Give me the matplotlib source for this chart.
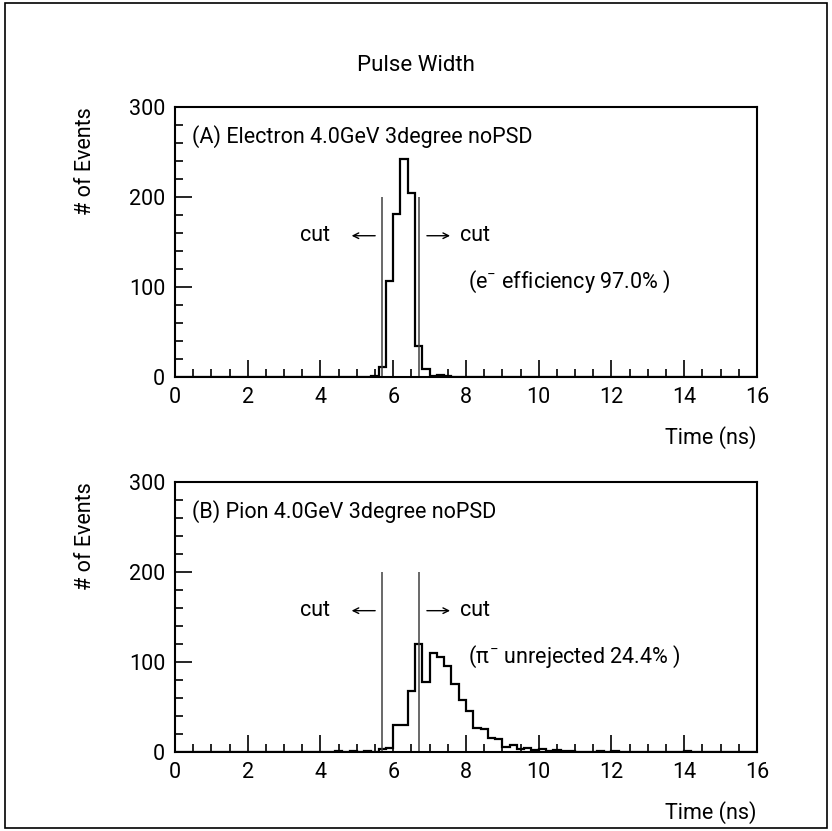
import numpy as np
import matplotlib
matplotlib.use("Agg")
import matplotlib.pyplot as plt
from matplotlib.patches import Rectangle

plt.rcParams['font.family'] = ['Roboto', 'DejaVu Sans']
plt.rcParams['mathtext.fontset'] = 'custom'
plt.rcParams['mathtext.rm'] = 'Roboto'
plt.rcParams['mathtext.it'] = 'Roboto'

# Histogram binning: 80 bins of 0.2 ns from 0 to 16
bin_edges = np.round(np.arange(0, 16.0001, 0.2), 2)

# Panel A: electrons (values per bin, starting at 5.4 ns)
elec_start = 5.4
elec_counts = [1, 11, 107, 181, 242, 204, 35, 9, 1, 2, 1]

# Panel B: pions, (bin start, count)
pion_sparse = [(4.4, 1), (4.8, 1), (5.2, 1)]
pion_start = 5.6
pion_counts = [3, 4, 30, 30, 68, 120, 78, 110, 105, 96, 75, 58, 45, 27, 26,
               15, 14, 6, 8, 3, 4, 2, 3, 1, 2, 1, 1]
pion_tail = [(11.6, 1), (12.0, 1), (14.0, 1)]

cut_low = 5.7
cut_high = 6.7

titles = ["(A) Electron 4.0GeV 3degree noPSD", "(B) Pion 4.0GeV 3degree noPSD"]
notes = [r"(e$^{-}$ efficiency 97.0% )", r"($\pi^{-}$ unrejected 24.4% )"]


def fill_bins(start, counts, extra=()):
    h = np.zeros(len(bin_edges) - 1)
    i0 = int(round(start / 0.2))
    h[i0:i0 + len(counts)] = counts
    for x, c in extra:
        h[int(round(x / 0.2))] = c
    return h


hist_a = fill_bins(elec_start, elec_counts)
hist_b = fill_bins(pion_start, pion_counts, pion_sparse + pion_tail)

fig = plt.figure(figsize=(8.32, 8.31), dpi=100)
fig.patches.append(Rectangle((0.006, 0.004), 0.988, 0.992, transform=fig.transFigure,
                             fill=False, lw=1.2, ec='black'))
fig.text(0.5, 0.921, "Pulse Width", ha='center', va='center', fontsize=16)

ax_a = fig.add_axes([0.2103, 0.5463, 0.6995, 0.3249])
ax_b = fig.add_axes([0.2103, 0.0951, 0.6995, 0.3249])

fs = 15.5
for ax, hist, title, note in zip([ax_a, ax_b], [hist_a, hist_b], titles, notes):
    ax.stairs(hist, bin_edges, color='black', lw=1.6)
    ax.set_xlim(0, 16)
    ax.set_ylim(0, 300)
    ax.set_xticks(np.arange(0, 17, 2))
    ax.set_xticks(np.arange(0, 16.01, 0.5), minor=True)
    ax.set_yticks([0, 100, 200, 300])
    ax.set_yticks(np.arange(0, 301, 20), minor=True)
    ax.tick_params(which='both', direction='in', top=False, right=False,
                   labelsize=fs, width=1.2)
    ax.tick_params(which='major', length=12, pad=7)
    ax.tick_params(which='minor', length=6)
    for s in ax.spines.values():
        s.set_linewidth(1.5)
    ax.set_xlabel("Time (ns)", fontsize=fs, loc='right', labelpad=13)
    ax.set_ylabel("# of Events", fontsize=fs, loc='top', labelpad=24)

    ax.vlines([cut_low, cut_high], 0, 200, color='0.25', lw=1.1)
    ax.annotate("", xy=(4.78, 157), xytext=(5.58, 157),
                arrowprops=dict(arrowstyle='->', lw=1.0, color='black'))
    ax.annotate("", xy=(7.64, 157), xytext=(6.85, 157),
                arrowprops=dict(arrowstyle='->', lw=1.0, color='black'))
    ax.text(4.26, 157, "cut", ha='right', va='center', fontsize=fs)
    ax.text(7.84, 157, "cut", ha='left', va='center', fontsize=fs)
    ax.text(8.05, 106, note, ha='left', va='center', fontsize=fs)
    ax.text(0.47, 267, title, ha='left', va='center', fontsize=fs)

fig.savefig("out.png", dpi=100)
